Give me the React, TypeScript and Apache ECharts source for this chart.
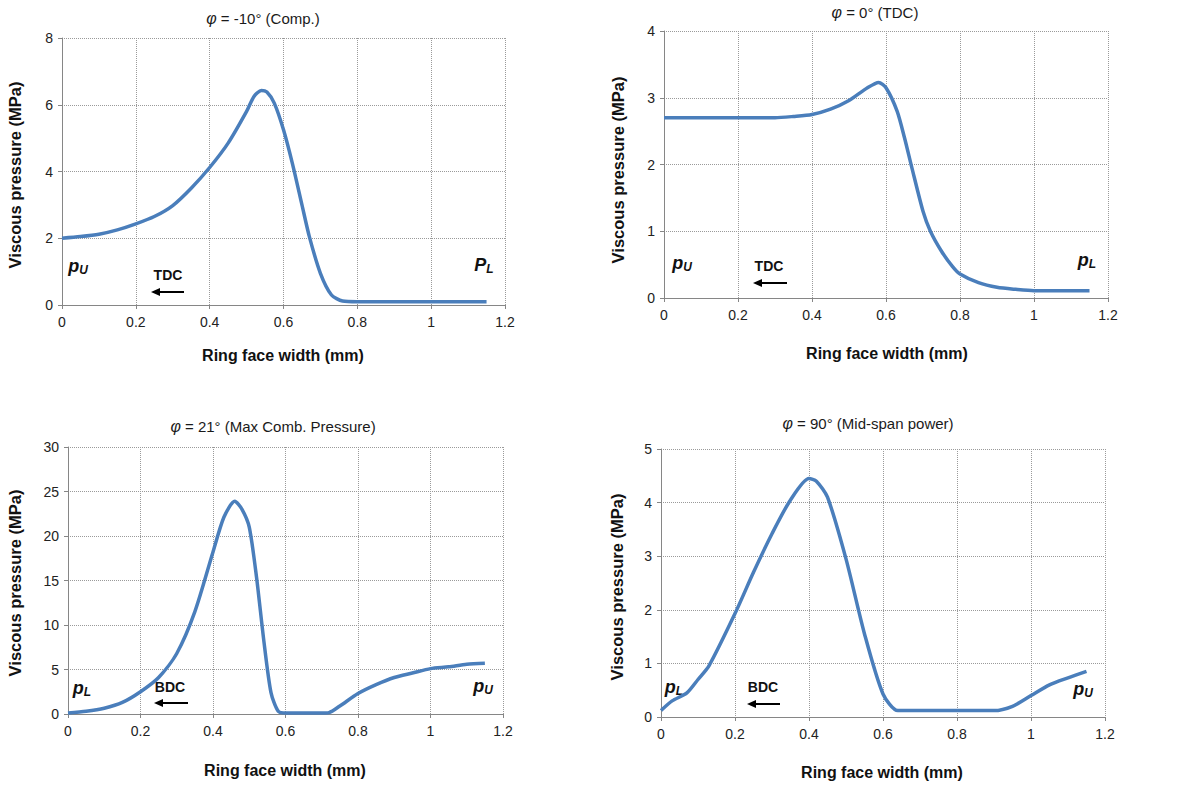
import React, { useEffect, useRef } from "react";
import * as echarts from "echarts";

// Panel 1: φ = -10° (Comp.)
const x1 = [0, 0.05, 0.1, 0.15, 0.2, 0.25, 0.3, 0.35, 0.4, 0.45, 0.5, 0.52, 0.54, 0.555, 0.575, 0.6, 0.625, 0.65, 0.67, 0.7, 0.73, 0.76, 0.8, 0.9, 1.0, 1.1, 1.15];
const y1 = [2.0, 2.05, 2.12, 2.25, 2.43, 2.65, 2.98, 3.5, 4.12, 4.85, 5.8, 6.25, 6.43, 6.38, 6.05, 5.25, 4.2, 3.0, 2.05, 0.95, 0.3, 0.12, 0.1, 0.1, 0.1, 0.1, 0.1];
// Panel 2: φ = 0° (TDC)
const x2 = [0, 0.1, 0.2, 0.3, 0.35, 0.4, 0.45, 0.5, 0.55, 0.58, 0.6, 0.63, 0.65, 0.67, 0.7, 0.72, 0.75, 0.78, 0.8, 0.85, 0.9, 0.95, 1.0, 1.1, 1.15];
const y2 = [2.7, 2.7, 2.7, 2.7, 2.72, 2.75, 2.83, 2.96, 3.15, 3.23, 3.15, 2.8, 2.4, 1.95, 1.3, 1.0, 0.7, 0.47, 0.36, 0.23, 0.16, 0.13, 0.11, 0.11, 0.11];
// Panel 3: φ = 21° (Max Comb. Pressure)
const x3 = [0, 0.05, 0.1, 0.15, 0.2, 0.25, 0.3, 0.35, 0.4, 0.43, 0.46, 0.48, 0.5, 0.52, 0.54, 0.56, 0.58, 0.6, 0.7, 0.72, 0.75, 0.8, 0.85, 0.9, 0.95, 1.0, 1.05, 1.1, 1.15];
const y3 = [0.1, 0.3, 0.65, 1.3, 2.5, 4.1, 6.8, 11.5, 18.2, 22.1, 23.9, 23.0, 21.0, 15.4, 8.3, 2.4, 0.3, 0.1, 0.1, 0.15, 0.9, 2.3, 3.3, 4.1, 4.6, 5.1, 5.3, 5.6, 5.7];
// Panel 4: φ = 90° (Mid-span power)
const x4 = [0, 0.03, 0.07, 0.1, 0.13, 0.2, 0.25, 0.3, 0.35, 0.4, 0.42, 0.45, 0.5, 0.55, 0.6, 0.64, 0.7, 0.8, 0.9, 0.95, 1.0, 1.05, 1.1, 1.15];
const y4 = [0.12, 0.3, 0.45, 0.7, 0.96, 1.93, 2.7, 3.42, 4.05, 4.45, 4.4, 4.1, 2.95, 1.55, 0.43, 0.12, 0.12, 0.12, 0.12, 0.2, 0.4, 0.6, 0.73, 0.85];

const titles = [" = -10° (Comp.)", " = 0° (TDC)", " = 21° (Max Comb. Pressure)", " = 90° (Mid-span power)"];
const yMax = [8, 4, 30, 5];
const yInterval = [2, 1, 5, 1];
const xTitle = "Ring face width (mm)";
const yTitle = "Viscous pressure (MPa)";

const FONT = "'Liberation Sans', Arial, sans-serif";
const LINE = "#4A7EBB";

const grids = [
  { left: 62, top: 38, width: 443, height: 267 },
  { left: 664, top: 31, width: 444, height: 267 },
  { left: 68, top: 447, width: 435, height: 267 },
  { left: 661, top: 449, width: 444, height: 268 },
];
const titlePos = [[263, 18], [875, 12], [273, 426], [868, 423]];
const xTitlePos = [[283, 355], [887, 353], [285, 770], [882, 772]];
const yTitlePos = [[15, 175], [618, 170], [15, 583], [617, 587]];
const annots = [
  { l: ["p", "U", 78, 266], d: ["TDC", 168, 275], a: [184, 151, 292], r: ["P", "L", 484, 265] },
  { l: ["p", "U", 682, 263], d: ["TDC", 769, 266], a: [787, 753, 283], r: ["p", "L", 1087, 260] },
  { l: ["p", "L", 82, 688], d: ["BDC", 170, 687], a: [188, 154, 703], r: ["p", "U", 483, 686] },
  { l: ["p", "L", 674, 687], d: ["BDC", 763, 687], a: [780, 747, 704], r: ["p", "U", 1083, 689] },
];

function pairs(xs: number[], ys: number[]) {
  return xs.map((x, i) => [x, ys[i]]);
}

export default function App() {
  const ref = useRef<HTMLDivElement>(null);
  useEffect(() => {
    if (!ref.current) return;
    const chart = echarts.init(ref.current, null, { renderer: "svg" });
    const series = [pairs(x1, y1), pairs(x2, y2), pairs(x3, y3), pairs(x4, y4)];
    const graphic: any[] = [];
    titles.forEach((t, i) => {
      graphic.push({
        type: "text",
        x: titlePos[i][0],
        y: titlePos[i][1],
        style: {
          text: "{i|φ}{n|" + t + "}",
          fontSize: 15,
          fontFamily: FONT,
          textAlign: "center",
          textVerticalAlign: "middle",
          rich: {
            i: { fontFamily: FONT, fontSize: 16, fontStyle: "italic", fill: "#1a1a1a" },
            n: { fontFamily: FONT, fontSize: 15, fill: "#1a1a1a" },
          },
        },
      });
      graphic.push({
        type: "text",
        x: xTitlePos[i][0],
        y: xTitlePos[i][1],
        style: { text: xTitle, textAlign: "center", textVerticalAlign: "middle", fontFamily: FONT, fontSize: 16, fontWeight: "bold", fill: "#111" },
      });
      graphic.push({
        type: "text",
        x: yTitlePos[i][0],
        y: yTitlePos[i][1],
        rotation: Math.PI / 2,
        style: { text: yTitle, textAlign: "center", textVerticalAlign: "middle", fontFamily: FONT, fontSize: 16.5, fontWeight: "bold", fill: "#111" },
      });
      const an = annots[i];
      const sym = (s: any[]) => ({
        type: "text",
        x: s[2],
        y: s[3],
        style: {
          text: "{p|" + s[0] + "}{s|" + s[1] + "}",
          textAlign: "center",
          textVerticalAlign: "middle",
          rich: {
            p: { fontFamily: FONT, fontSize: 18, fontStyle: "italic", fontWeight: "bold", fill: "#111" },
            s: { fontFamily: FONT, fontSize: 12, fontStyle: "italic", fontWeight: "bold", fill: "#111", padding: [7, 0, 0, 0] },
          },
        },
      });
      graphic.push(sym(an.l));
      graphic.push(sym(an.r));
      graphic.push({
        type: "text",
        x: an.d[1] as number,
        y: an.d[2] as number,
        style: { text: an.d[0], textAlign: "center", textVerticalAlign: "middle", fontFamily: FONT, fontSize: 14, fontWeight: "bold", fill: "#111" },
      });
      const [ax1, ax2, ay] = an.a;
      graphic.push({
        type: "line",
        shape: { x1: ax1, y1: ay, x2: ax2 + 6, y2: ay },
        style: { stroke: "#000", lineWidth: 2 },
      });
      graphic.push({
        type: "polygon",
        shape: { points: [[ax2, ay], [ax2 + 9, ay - 4], [ax2 + 9, ay + 4]] },
        style: { fill: "#000" },
      });
    });

    const option: any = {
      animation: false,
      backgroundColor: "#fff",
      grid: grids.map((g) => ({ ...g, containLabel: false })),
      xAxis: grids.map((_, i) => ({
        type: "value",
        gridIndex: i,
        min: 0,
        max: 1.2,
        interval: 0.2,
        axisLine: { show: true, onZero: false, lineStyle: { color: "#868686", width: 1 } },
        axisTick: { show: true, inside: false, length: 4, lineStyle: { color: "#868686" } },
        axisLabel: {
          fontFamily: FONT,
          fontSize: 14,
          color: "#222",
          margin: 10,
          formatter: (v: number) => String(Math.round(v * 10) / 10),
        },
        splitLine: { show: true, lineStyle: { color: "#9a9a9a", type: [1, 1], width: 1 } },
      })),
      yAxis: grids.map((_, i) => ({
        type: "value",
        gridIndex: i,
        min: 0,
        max: yMax[i],
        interval: yInterval[i],
        axisLine: { show: true, onZero: false, lineStyle: { color: "#868686", width: 1 } },
        axisTick: { show: true, inside: false, length: 4, lineStyle: { color: "#868686" } },
        axisLabel: { fontFamily: FONT, fontSize: 14, color: "#222", margin: 9 },
        splitLine: { show: true, lineStyle: { color: "#9a9a9a", type: [1, 1], width: 1 } },
      })),
      series: series.map((d, i) => ({
        type: "line",
        xAxisIndex: i,
        yAxisIndex: i,
        data: d,
        showSymbol: false,
        smooth: 0.25,
        lineStyle: { color: LINE, width: 3.5 },
      })),
      graphic,
    };
    chart.setOption(option);
    return () => chart.dispose();
  }, []);
  return (
    <div
      ref={ref}
      style={{ position: "fixed", left: 0, top: 0, width: 1199, height: 785, background: "#fff" }}
    />
  );
}
